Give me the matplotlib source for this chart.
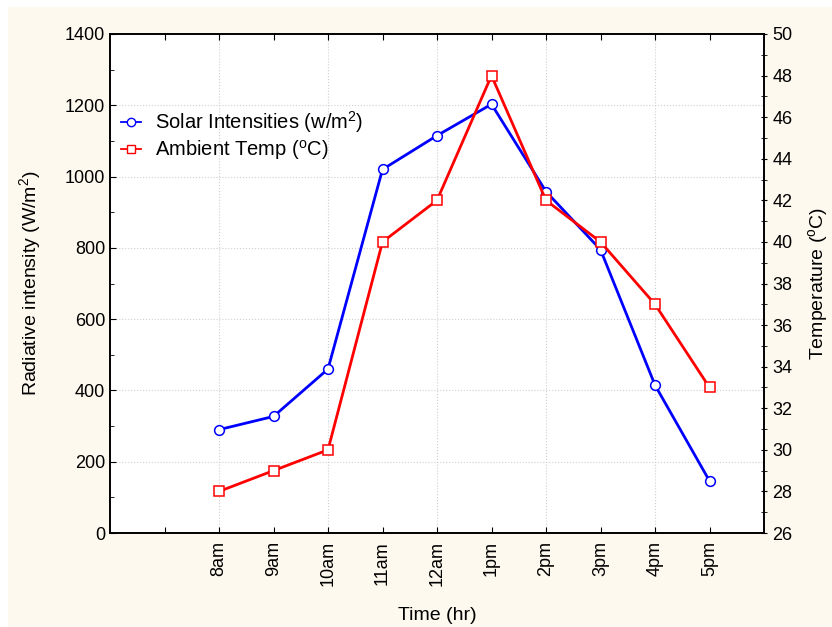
import matplotlib
matplotlib.use("Agg")
import matplotlib.pyplot as plt
from matplotlib.patches import Rectangle
from matplotlib.lines import Line2D
from matplotlib.ticker import MultipleLocator
import numpy as np

plt.rcParams['font.family'] = ['Liberation Sans', 'DejaVu Sans']
plt.rcParams['mathtext.fontset'] = 'custom'
plt.rcParams['mathtext.rm'] = 'Liberation Sans'
plt.rcParams['mathtext.default'] = 'regular'

# hourly readings
hours = ['8am', '9am', '10am', '11am', '12am', '1pm', '2pm', '3pm', '4pm', '5pm']
solar = [290, 327, 460, 1020, 1115, 1203, 958, 795, 415, 146]   # W/m2
temp = [28, 29, 30, 40, 42, 48, 42, 40, 37, 33]                 # deg C

x = np.arange(len(hours))
fs = 13
lfs = 14.5

fig = plt.figure(figsize=(8.32, 6.27), dpi=100, facecolor='white')
# cream page behind the plot
fig.patches.append(Rectangle((8 / 832, 0), 1, 1 - 7 / 627, transform=fig.transFigure,
                             facecolor='#fdf9ee', edgecolor='none', zorder=-10))

ax = fig.add_axes([110 / 832, 1 - 533 / 627, 654 / 832, 499 / 627])
ax.set_facecolor('white')
ax2 = ax.twinx()

ax.plot(x, solar, color='#0000ff', lw=2.0, marker='o', ms=7,
        mfc='white', mec='#0000ff', mew=1.1, zorder=5)
ax2.plot(x, temp, color='#ff0000', lw=2.0, marker='s', ms=7,
         mfc='white', mec='#ff0000', mew=1.1, zorder=5)

ax.set_xlim(-2, len(hours))
ax.set_ylim(0, 1400)
ax2.set_ylim(26, 50)

# x ticks, with an unlabelled one before the first hour
ax.set_xticks(np.arange(-1, len(hours)))
ax.set_xticklabels([''] + hours, rotation=90, fontsize=fs)
ax.yaxis.set_major_locator(MultipleLocator(200))
ax.yaxis.set_minor_locator(MultipleLocator(100))
ax2.yaxis.set_major_locator(MultipleLocator(2))
ax2.yaxis.set_minor_locator(MultipleLocator(1))

ax.tick_params(axis='both', which='both', direction='in', top=True, labelsize=fs)
ax.tick_params(axis='both', which='major', length=4)
ax.tick_params(axis='both', which='minor', length=3)
ax.tick_params(axis='x', pad=6)
ax2.tick_params(axis='y', which='both', direction='inout', labelsize=fs, length=5)

# dotted grid: every horizontal major, every other hour vertically
for yv in np.arange(200, 1400, 200):
    ax.axhline(yv, color='#cfcfcf', lw=0.8, ls=':', zorder=0)
for xv in x[::2]:
    ax.axvline(xv, color='#cfcfcf', lw=0.8, ls=':', zorder=0)

for a in (ax, ax2):
    for s in a.spines.values():
        s.set_linewidth(1.2)

ax.set_xlabel('Time (hr)', fontsize=14, labelpad=15)
ax.set_ylabel('Radiative intensity (W/m$^2$)', fontsize=14, labelpad=16)
ax2.set_ylabel('Temperature ($^o$C)', fontsize=14, rotation=90, labelpad=10)

# legend keys drawn thinner than the data lines
handles = [
    Line2D([], [], color='#0000ff', lw=1.3, marker='o', ms=6, mfc='white', mec='#0000ff', mew=1.0),
    Line2D([], [], color='#ff0000', lw=1.3, marker='s', ms=6, mfc='white', mec='#ff0000', mew=1.0),
]
ax2.legend(handles, ['Solar Intensities (w/m$^2$)', 'Ambient Temp ($^o$C)'],
           loc='upper left', bbox_to_anchor=(0.0, 0.871), frameon=False,
           fontsize=lfs, handlelength=1.0, handletextpad=0.7,
           labelspacing=0.15, borderaxespad=0.15)

fig.savefig('out.png', dpi=100, facecolor=fig.get_facecolor())
